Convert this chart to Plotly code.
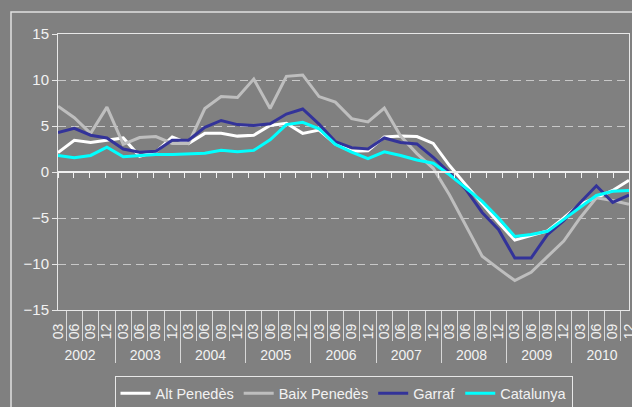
import plotly.graph_objects as go

# quarterly year-on-year variation (%), 2002-2010
years = ["2002", "2003", "2004", "2005", "2006", "2007", "2008", "2009", "2010"]
quarters = ["03", "06", "09", "12"]

alt_penedes = [2.1, 3.45, 3.2, 3.45, 3.7, 1.7, 2.2, 3.8, 3.1, 4.2, 4.2, 3.9,
               4.0, 5.05, 5.3, 4.2, 4.55, 3.05, 2.27, 2.3, 3.8, 3.9, 3.85, 3.1,
               0.7, -1.4, -3.5, -5.5, -7.4, -6.9, -6.4, -5.0, -3.5, -2.8, -2.0, -0.9]
baix_penedes = [7.15, 5.9, 4.2, 7.05, 3.0, 3.75, 3.85, 3.1, 3.1, 6.9, 8.2, 8.1,
                10.1, 6.9, 10.4, 10.55, 8.2, 7.6, 5.8, 5.45, 6.95, 3.9, 2.0, 0.4,
                -2.5, -5.8, -9.15, -10.5, -11.8, -10.9, -9.15, -7.5, -5.0, -2.8, -3.1, -3.5]
garraf = [4.3, 4.75, 4.0, 3.7, 2.5, 2.15, 2.25, 3.45, 3.45, 4.85, 5.6, 5.15,
          5.05, 5.25, 6.3, 6.85, 5.2, 3.3, 2.65, 2.5, 3.7, 3.2, 3.05, 1.6,
          -0.1, -1.9, -4.4, -6.25, -9.35, -9.35, -6.8, -5.3, -3.35, -1.5, -3.3, -2.5]
catalunya = [1.8, 1.55, 1.8, 2.7, 1.65, 1.8, 1.9, 1.9, 1.97, 2.05, 2.35, 2.2,
             2.35, 3.5, 5.15, 5.4, 4.7, 3.0, 2.15, 1.45, 2.2, 1.8, 1.3, 0.95,
             -0.3, -1.7, -3.2, -5.0, -7.0, -6.8, -6.45, -5.15, -3.8, -2.55, -2.1, -2.0]

x = [[y for y in years for q in quarters], [q for y in years for q in quarters]]

bg = "#808080"
txt = "#F2F2F2"
font = "Liberation Sans, Arial, sans-serif"

fig = go.Figure()
series = [("Alt Penedès", alt_penedes, "#FFFFFF"),
          ("Baix Penedès", baix_penedes, "#BEBEBE"),
          ("Garraf", garraf, "#333399"),
          ("Catalunya", catalunya, "#00FFFF")]
for name, vals, col in series:
    fig.add_trace(go.Scatter(x=x, y=vals, name=name, mode="lines",
                             line=dict(color=col, width=3)))

# dummy trace so the zero-line axis gets drawn
fig.add_trace(go.Scatter(x=[None], y=[None], xaxis="x2", showlegend=False, hoverinfo="skip"))

fig.update_layout(
    width=632, height=407,
    margin=dict(l=58, r=3, t=34, b=97, autoexpand=False),
    paper_bgcolor=bg, plot_bgcolor=bg,
    font=dict(family=font, size=15, color=txt),
    xaxis=dict(type="multicategory", automargin=False, showline=True,
               linecolor="#E8E8E8", linewidth=1, mirror=True, showgrid=False,
               ticks="outside", tickson="boundaries", dtick=1, nticks=100,
               ticklen=30, tickcolor="#D8D8D8", tickangle=-90,
               ticklabelstandoff=7,
               dividercolor="#D8D8D8", dividerwidth=1,
               tickfont=dict(size=14, color=txt)),
    xaxis2=dict(overlaying="x", anchor="free", position=0.5, range=[-0.5, 35.5],
                automargin=False, tickvals=[i - 0.5 for i in range(37)],
                showticklabels=False, ticks="outside", ticklen=5, tickcolor="#F0F0F0",
                showline=True, linecolor="#F0F0F0", linewidth=1.5, showgrid=False,
                zeroline=False),
    yaxis=dict(range=[-15, 15], dtick=5, automargin=False, showline=True,
               linecolor="#E8E8E8", linewidth=1, mirror=True, ticks="outside",
               ticklen=5, tickcolor="#E8E8E8", showgrid=True, gridcolor="#C8C8C8",
               griddash="8px,5px", gridwidth=1, zeroline=False,
               tickfont=dict(size=15, color=txt)),
    legend=dict(orientation="h", x=0.5, xanchor="center", y=-0.24, yanchor="top",
                bgcolor="rgba(0,0,0,0)", bordercolor="#E8E8E8", borderwidth=1,
                font=dict(size=14.5, color=txt)),
    shapes=[dict(type="rect", xref="paper", yref="paper", x0=-0.0823, x1=1.03,
                 y0=-0.45, y1=1.0797, line=dict(color="#E0E0E0", width=1.5),
                 layer="below")],
)

# drop the page's default body margin so the figure sits at the window corner
fig.write_html("out.html", config={"displayModeBar": False},
               post_script="document.body.style.margin='0px';")
